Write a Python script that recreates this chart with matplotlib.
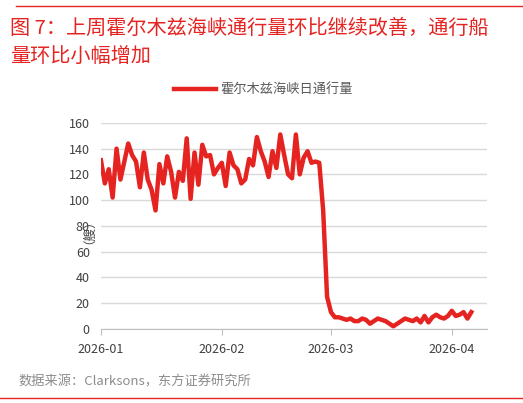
import matplotlib
matplotlib.use("Agg")
import matplotlib.pyplot as plt
import datetime as dt

plt.rcParams['font.family'] = ['Noto Sans CJK SC', 'DejaVu Sans']

jan_feb = [131,113,124,102,140,116,130,144,135,130,110,137,116,108,92,128,113,134,122,102,
           122,115,148,101,137,112,143,134,135,120,125,129,111,137,127,124,113,116,132,127,
           149,138,130,118,138,125,151,135,120,117,151,120,133,138,129,130,129,92]
march_apr = [25,13,9,9,8,7,8,6,6,8,7,4,6,8,7,6,4,2,4,6,8,7,6,8,5,10,5,9,11,9,8,10,14,10,11,13,8,13]
values = jan_feb + march_apr
start = dt.date(2026, 1, 1)
dates = [start + dt.timedelta(days=i) for i in range(len(values))]

fig = plt.figure(figsize=(5.23, 4.03), dpi=100)
ax = fig.add_axes([0.193, 0.184, 0.738, 0.511])
red = '#e52421'
ax.plot(dates, values, color=red, lw=3.2, label='霍尔木兹海峡日通行量')
ax.set_ylim(0, 160)
ax.set_yticks(range(0, 161, 20))
ax.set_xlim(dt.date(2026, 1, 1), dt.date(2026, 4, 10))
ticks = [dt.date(2026, m, 1) for m in (1, 2, 3, 4)]
ax.set_xticks(ticks)
ax.set_xticklabels(['2026-01', '2026-02', '2026-03', '2026-04'])
ax.grid(axis='y', color='#d9d9d9', lw=1)
ax.set_axisbelow(True)
for s in ['top', 'right', 'left']:
    ax.spines[s].set_visible(False)
ax.spines['bottom'].set_color('#bfbfbf')
ax.tick_params(axis='y', length=0, labelsize=9, colors='#404040', pad=8)
ax.tick_params(axis='x', length=4, color='#bfbfbf', labelsize=9, labelcolor='#404040', pad=6)
fig.text(0.158, 0.44, '（艘）', rotation=90, fontsize=9, color='#404040', ha='center', va='center')
ax.legend(loc='lower center', bbox_to_anchor=(0.42, 1.07), frameon=False, fontsize=9.5,
          labelcolor='#595959', handlelength=3.2, handletextpad=0.3)

fig.text(0.02, 0.955, '图 7：上周霍尔木兹海峡通行量环比继续改善，通行船', color=red, fontsize=14.5,
         va='top')
fig.text(0.02, 0.885, '量环比小幅增加', color=red, fontsize=14.5, va='top')
fig.text(0.035, 0.052, '数据来源：Clarksons，东方证券研究所', color='#8c8c8c', fontsize=9.5, va='center')
fig.add_artist(plt.Line2D([0.03, 1.0], [0.985, 0.985], color=red, lw=1))
fig.add_artist(plt.Line2D([0.0, 1.0], [0.012, 0.012], color=red, lw=1))
fig.savefig('out.png', dpi=100)
